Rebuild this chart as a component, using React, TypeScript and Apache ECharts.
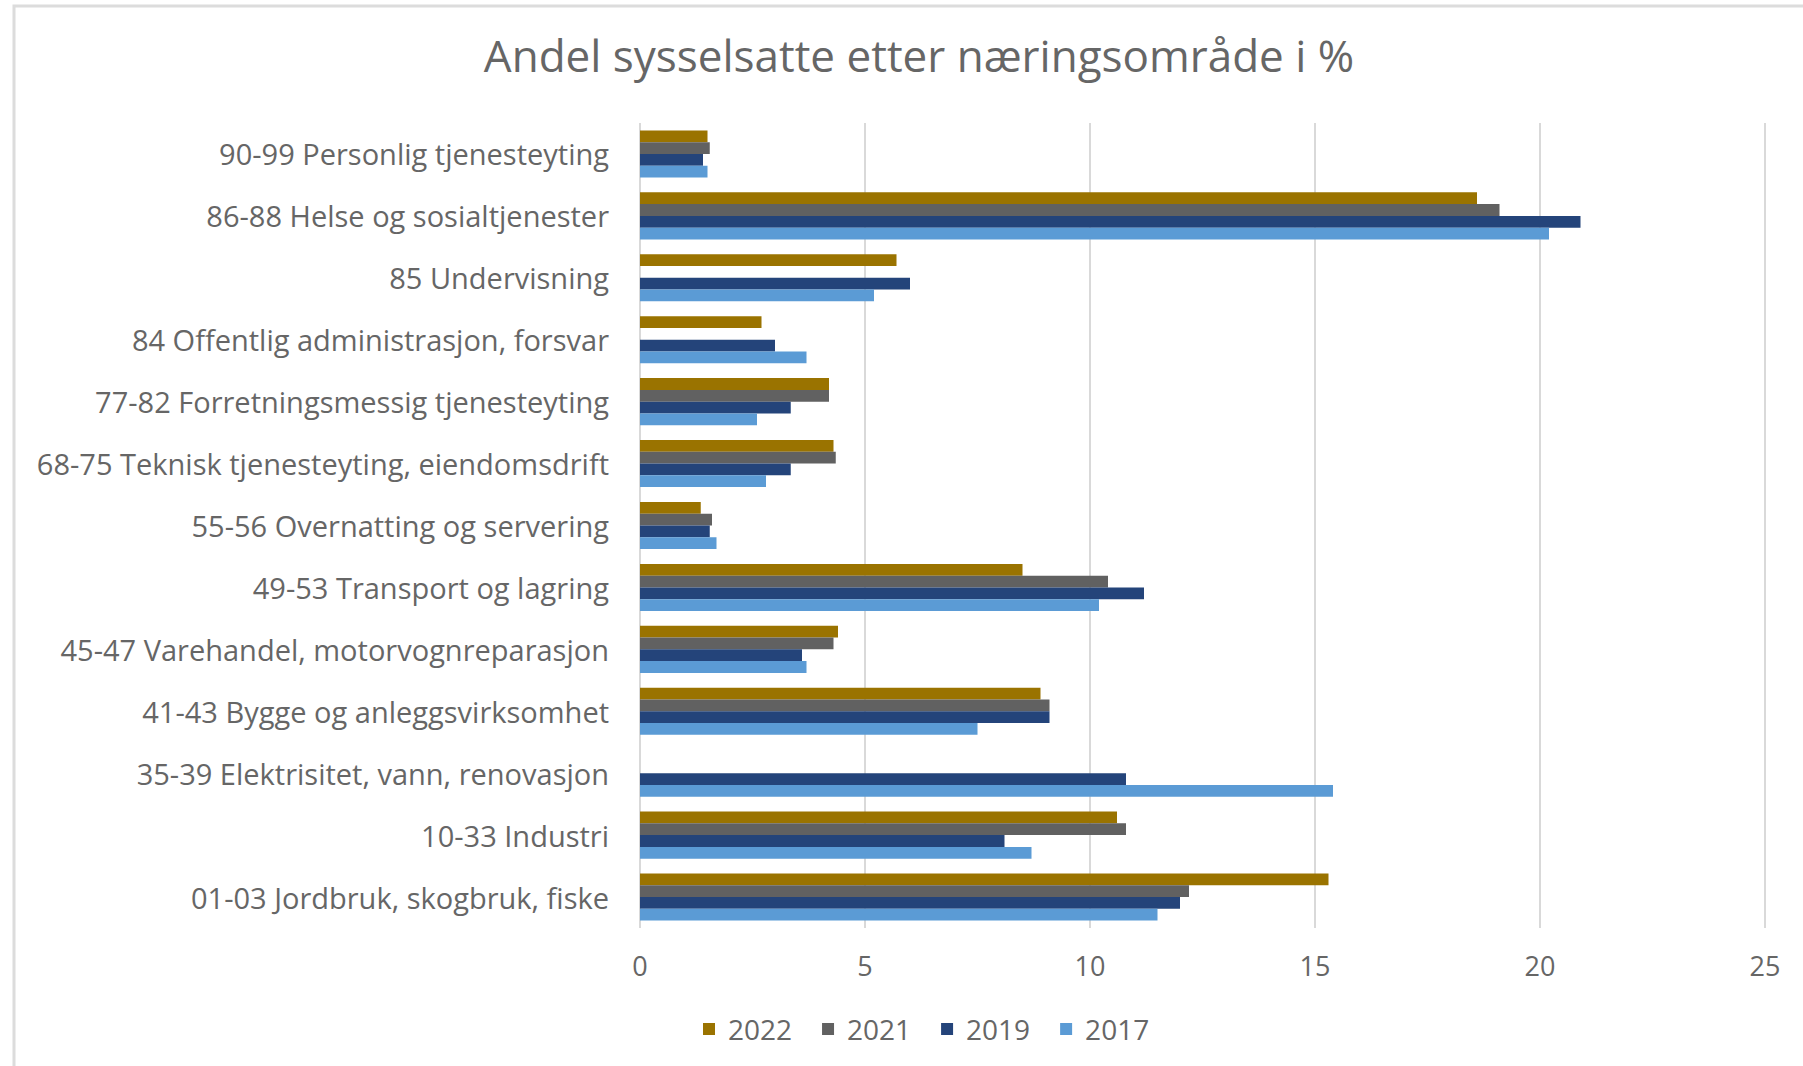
import React, { useEffect, useRef } from "react";
import * as echarts from "echarts";

const categories = [
  "90-99 Personlig tjenesteyting",
  "86-88 Helse og sosialtjenester",
  "85 Undervisning",
  "84 Offentlig administrasjon, forsvar",
  "77-82 Forretningsmessig tjenesteyting",
  "68-75 Teknisk tjenesteyting, eiendomsdrift",
  "55-56 Overnatting og servering",
  "49-53 Transport og lagring",
  "45-47 Varehandel, motorvognreparasjon",
  "41-43 Bygge og anleggsvirksomhet",
  "35-39 Elektrisitet, vann, renovasjon",
  "10-33 Industri",
  "01-03 Jordbruk, skogbruk, fiske",
];

const v2022 = [1.5, 18.6, 5.7, 2.7, 4.2, 4.3, 1.35, 8.5, 4.4, 8.9, null, 10.6, 15.3];
const v2021 = [1.55, 19.1, null, null, 4.2, 4.35, 1.6, 10.4, 4.3, 9.1, null, 10.8, 12.2];
const v2019 = [1.4, 20.9, 6.0, 3.0, 3.35, 3.35, 1.55, 11.2, 3.6, 9.1, 10.8, 8.1, 12.0];
const v2017 = [1.5, 20.2, 5.2, 3.7, 2.6, 2.8, 1.7, 10.2, 3.7, 7.5, 15.4, 8.7, 11.5];

const seriesNames = ["2022", "2021", "2019", "2017"];
const seriesValues = [v2022, v2021, v2019, v2017];
const colors = ["#9A7300", "#616161", "#24447A", "#5B9BD5"];

const xTicks = { min: 0, max: 25, interval: 5 };
const titleText = "Andel sysselsatte etter næringsområde i %";

export default function App() {
  const ref = useRef<HTMLDivElement>(null);
  useEffect(() => {
    if (!ref.current) return;
    const chart = echarts.init(ref.current, null, { renderer: "svg" });
    chart.setOption({
      animation: false,
      backgroundColor: "#ffffff",
      color: colors,
      textStyle: { fontFamily: "Open Sans" },
      graphic: [
        {
          type: "rect",
          shape: { x: 14, y: 6, width: 1900, height: 1200 },
          style: { fill: "none", stroke: "#DCDCDC", lineWidth: 3 },
          silent: true,
        },
        {
          type: "text",
          x: 919,
          y: 55,
          style: {
            text: titleText,
            fill: "#666666",
            font: '44px "Open Sans"',
            textAlign: "center",
            textVerticalAlign: "middle",
          },
        },
      ],
      grid: { left: 640, right: 38, top: 123, bottom: 138, containLabel: false },
      legend: {
        left: 698,
        top: 1010,
        icon: "rect",
        itemWidth: 12,
        itemHeight: 12,
        itemGap: 30,
        textStyle: {
          color: "#666666",
          fontSize: 28,
          fontFamily: "Open Sans",
          padding: [0, 0, 0, 8],
        },
        data: seriesNames,
      },
      xAxis: {
        type: "value",
        min: xTicks.min,
        max: xTicks.max,
        interval: xTicks.interval,
        axisLine: { show: false },
        axisTick: { show: false },
        axisLabel: { color: "#666666", fontSize: 27, margin: 24 },
        splitLine: { show: true, lineStyle: { color: "#D9D9D9", width: 2 } },
      },
      yAxis: {
        type: "category",
        inverse: true,
        data: categories,
        axisLine: { show: false },
        axisTick: { show: false },
        axisLabel: { color: "#666666", fontSize: 29, margin: 31 },
      },
      series: seriesNames.map((name, i) => ({
        name,
        type: "bar",
        data: seriesValues[i],
        barGap: "0%",
        barCategoryGap: "24%",
        itemStyle: { color: colors[i] },
      })),
    });
    return () => chart.dispose();
  }, []);
  return (
    <div
      ref={ref}
      style={{ position: "absolute", left: 0, top: 0, width: 1803, height: 1066 }}
    />
  );
}
